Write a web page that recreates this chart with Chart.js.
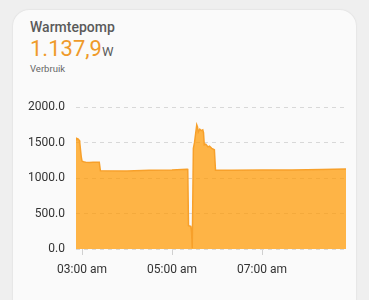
<!DOCTYPE html>
<html>
<head>
<meta charset="utf-8">
<script src="https://cdn.jsdelivr.net/npm/chart.js@4/dist/chart.umd.min.js"></script>
<style>
  html, body { margin: 0; padding: 0; background: #efefef; font-family: Roboto, "Noto Sans", sans-serif; }
  body { width: 369px; height: 300px; overflow: hidden; position: relative; }
  .card {
    position: absolute; left: 13px; top: 10px; width: 343px; height: 310px;
    background: #fafafa; border-radius: 16px;
    box-shadow: 0 0 2px rgba(0,0,0,0.12);
  }
  .title { position: absolute; left: 17px; top: 9px; font-size: 14px; font-weight: 500; color: #5a5a5a; }
  .value { position: absolute; left: 17px; top: 26px; font-size: 22px; color: #ef9a2a; }
  .value span { font-size: 13px; color: #5a5a5a; }
  .sub { position: absolute; left: 17px; top: 53px; font-size: 9.5px; color: #666; }
  .chart-wrap { position: absolute; left: 13px; top: 89px; width: 343px; height: 196px; }
</style>
</head>
<body>
<div class="card">
  <div class="title">Warmtepomp</div>
  <div class="value">1.137,9<span>W</span></div>
  <div class="sub">Verbruik</div>
</div>
<div class="chart-wrap"><canvas id="chart" width="343" height="196"></canvas></div>

<script>
// --- DATA (minutes since midnight, watts) ---
const minutes = [172, 173, 175, 176.5, 177, 178, 179, 180, 182, 185, 190, 195, 203, 204.5,
                 240, 270, 300, 320, 321, 322, 325, 326, 327, 328.5, 330, 333, 334, 335, 337,
                 339, 341, 342, 343, 345, 348, 350, 353, 356.5, 358, 380, 420, 460, 500, 532];
const watts   = [1540, 1560, 1550, 1530, 1500, 1400, 1300, 1240, 1230, 1225, 1220, 1225, 1225, 1105,
                 1100, 1110, 1115, 1125, 1130, 330, 320, 250, 10, 1420, 1500, 1750, 1720, 1650, 1690,
                 1670, 1680, 1640, 1470, 1480, 1440, 1450, 1420, 1400, 1110, 1110, 1115, 1115, 1120, 1130];
const xTicks = [180, 300, 420];
const xTickLabels = ["03:00 am", "05:00 am", "07:00 am"];
const yTicks = [0, 500, 1000, 1500, 2000];

const points = minutes.map((m, i) => ({ x: m, y: watts[i] }));

new Chart(document.getElementById("chart").getContext("2d"), {
    type: "line",
    data: {
        datasets: [{
            label: "Verbruik",
            data: points,
            borderColor: "#f7a02a",
            backgroundColor: "rgba(255,152,0,0.72)",
            borderWidth: 1.5,
            pointRadius: 0,
            fill: "origin",
            tension: 0
        }]
    },
    options: {
        responsive: false,
        animation: false,
        layout: { padding: { top: 4, right: 10, left: 0, bottom: 0 } },
        plugins: { legend: { display: false }, tooltip: { enabled: false } },
        scales: {
            x: {
                type: "linear",
                min: 172,
                max: 532,
                border: { display: false },
                grid: { drawOnChartArea: false, tickLength: 6, color: "#d0d0d0" },
                afterBuildTicks: axis => { axis.ticks = xTicks.map(v => ({ value: v })); },
                afterFit: axis => { axis.height = 36; },
                ticks: {
                    color: "#333",
                    font: { family: "Roboto", size: 12 },
                    padding: 8,
                    maxRotation: 0,
                    callback: v => xTickLabels[xTicks.indexOf(v)]
                }
            },
            y: {
                min: 0,
                max: 2000,
                border: { display: false, dash: [4, 4] },
                grid: { color: "#d8d8d8", drawTicks: false },
                afterBuildTicks: axis => { axis.ticks = yTicks.map(v => ({ value: v })); },
                afterFit: axis => { axis.width = 63; },
                ticks: {
                    color: "#333",
                    font: { family: "Roboto", size: 12 },
                    padding: 11,
                    callback: v => v.toFixed(1)
                }
            }
        }
    }
});
</script>
</body>
</html>
